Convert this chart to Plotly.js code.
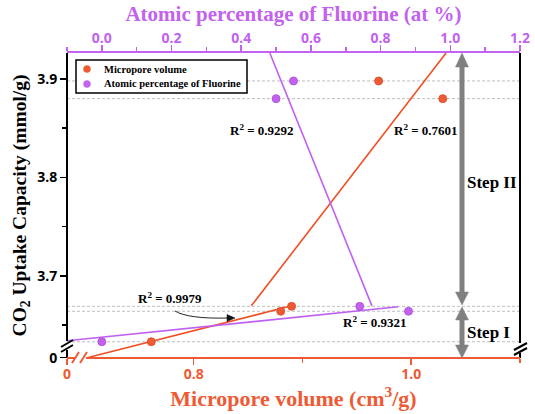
<!DOCTYPE html>
<html>
<head>
<meta charset="utf-8">
<script src="https://cdn.plot.ly/plotly-3.0.1.min.js"></script>
<style>html,body{margin:0;padding:0;background:#fff;}#chart{width:535px;height:414px;}</style>
</head>
<body>
<div id="chart"></div>
<script>
// ---- data ----
const uptake = [3.633, 3.664, 3.669, 3.898, 3.880];          // CO2 uptake (mmol/g)
const microporeVolume = [0.761, 0.880, 0.890, 0.970, 1.029]; // cm3/g (bottom axis)
const fluorineAt = [0.00, 0.88, 0.74, 0.55, 0.50];           // at % (top axis)

// linear fits (endpoints of drawn fit segments)
const fitVolI_x = [0.702, 0.890];  const fitVolI_y = [3.6168, 3.6695];
const fitVolII_x = [0.853, 1.032]; const fitVolII_y = [3.6695, 3.9264];
const fitFII_x = [0.482, 0.775];   const fitFII_y = [3.9264, 3.6695];
const fitFI_x = [-0.10, 0.850];    const fitFI_y = [3.634, 3.6685];

const r2Labels = ['R<sup>2</sup> = 0.9292', 'R<sup>2</sup> = 0.7601', 'R<sup>2</sup> = 0.9979', 'R<sup>2</sup> = 0.9321'];
const yTickVals = [3.6168, 3.7, 3.8, 3.9];
const yTickText = ['0', '3.7', '3.8', '3.9'];
const xTickVals = [0.6835, 0.8, 1.0];
const xTickText = ['0', '0.8', '1.0'];
const x2TickVals = [0, 0.2, 0.4, 0.6, 0.8, 1.0, 1.2];
const x2TickText = ['0.0', '0.2', '0.4', '0.6', '0.8', '1.0', '1.2'];

// ---- styling ----
const ORANGE = '#EE5A34', ORANGE_LINE = '#F04E22';
const PURPLE = '#C262EE', PURPLE_LINE = '#C060F0';
const GRAY = '#808080';
const SERIF = 'Liberation Serif, Times New Roman, serif';
const SANS = 'Open Sans, Liberation Sans, sans-serif';
const b = s => '<b>' + s + '</b>';

// pixel -> paper helpers (plot area: x 67..520, y 53..358)
const L = 67, R = 520, T = 53, B = 358;
const px = x => (x - L) / (R - L);
const py = y => (B - y) / (B - T);

const traces = [
  {x: fitVolI_x, y: fitVolI_y, xaxis: 'x', yaxis: 'y', mode: 'lines', line: {color: ORANGE_LINE, width: 1.6}, hoverinfo: 'skip'},
  {x: fitVolII_x, y: fitVolII_y, xaxis: 'x', yaxis: 'y', mode: 'lines', line: {color: ORANGE_LINE, width: 1.6}, hoverinfo: 'skip'},
  {x: fitFII_x, y: fitFII_y, xaxis: 'x2', yaxis: 'y', mode: 'lines', line: {color: PURPLE_LINE, width: 1.6}, hoverinfo: 'skip'},
  {x: fitFI_x, y: fitFI_y, xaxis: 'x2', yaxis: 'y', mode: 'lines', line: {color: PURPLE_LINE, width: 1.6}, hoverinfo: 'skip'},
  {x: microporeVolume, y: uptake, xaxis: 'x', yaxis: 'y', mode: 'markers', name: 'Micropore volume',
   marker: {color: ORANGE, size: 8, line: {color: '#d84a26', width: 0.8}}},
  {x: fluorineAt, y: uptake, xaxis: 'x2', yaxis: 'y', mode: 'markers', name: 'Atomic percentage of Fluorine',
   marker: {color: PURPLE, size: 8, line: {color: '#a94fd6', width: 0.8}}}
];

const shapes = [];
// dashed guide lines at each measured uptake
uptake.forEach(v => shapes.push({type: 'line', xref: 'paper', yref: 'y', x0: 0, x1: 1, y0: v, y1: v,
  line: {color: '#bdbdbd', width: 1, dash: '3px,2px'}, layer: 'below'}));
function seg(x0, y0, x1, y1, color, width) {
  shapes.push({type: 'line', xref: 'paper', yref: 'paper', x0: px(x0), y0: py(y0), x1: px(x1), y1: py(y1),
    line: {color: color, width: width}});
}
function tri(pts, color) {
  const d = 'M ' + pts.map(p => px(p[0]) + ',' + py(p[1])).join(' L ') + ' Z';
  shapes.push({type: 'path', xref: 'paper', yref: 'paper', path: d, fillcolor: color, line: {color: color, width: 0.5}});
}
// left axis (with break)
seg(L, T, L, 341, '#000', 2);
seg(L, 350, L, B, '#000', 2);
seg(61, 347, 73, 340, '#000', 2);
seg(61, 352, 73, 345, '#000', 2);
// right axis (with break)
seg(R, T, R, 343, '#000', 2);
seg(R, 353, R, B, '#000', 2);
seg(514, 350, 527, 343, '#000', 2);
seg(514, 355, 527, 348, '#000', 2);
// bottom axis (with break)
seg(L, B, 76, B, ORANGE, 2);
seg(86, B, R, B, ORANGE, 2);
seg(72, 363, 79, 352, ORANGE, 2);
seg(80, 363, 87, 352, ORANGE, 2);
// Step arrows
seg(462, 64, 462, 295, GRAY, 5);
tri([[462, 53], [455.5, 67], [468.5, 67]], GRAY);
tri([[462, 305], [455.5, 292], [468.5, 292]], GRAY);
seg(462, 318, 462, 347, GRAY, 5);
tri([[462, 307], [455.5, 320], [468.5, 320]], GRAY);
tri([[462, 358], [455.5, 345], [468.5, 345]], GRAY);
// curved pointer for R2 = 0.9979
shapes.push({type: 'path', xref: 'paper', yref: 'paper',
  path: 'M ' + px(175) + ',' + py(311) + ' Q ' + px(188) + ',' + py(319) + ' ' + px(228) + ',' + py(318),
  line: {color: '#222', width: 1}});
tri([[235, 318], [227, 314.5], [227, 321.5]], '#111');
// legend box and markers
shapes.push({type: 'rect', xref: 'paper', yref: 'paper', x0: px(76), x1: px(247), y0: py(60), y1: py(93),
  line: {color: '#000', width: 1.5}, fillcolor: '#fff'});
[[69, ORANGE], [84, PURPLE]].forEach(([yy, c]) => shapes.push({type: 'circle', xref: 'paper', yref: 'paper',
  xsizemode: 'pixel', ysizemode: 'pixel', xanchor: px(87), yanchor: py(yy), x0: -3.5, x1: 3.5, y0: -3.5, y1: 3.5,
  fillcolor: c, line: {color: c, width: 0.5}}));

function note(x, y, text, size, anchor) {
  return {xref: 'paper', yref: 'paper', x: px(x), y: py(y), xanchor: anchor || 'center', yanchor: 'middle',
    text: b(text), showarrow: false, font: {family: SERIF, size: size, color: '#000'}};
}
const annotations = [
  note(262, 130, r2Labels[0], 13),
  note(426, 130, r2Labels[1], 13),
  note(170, 298, r2Labels[2], 13),
  note(375, 322, r2Labels[3], 13),
  note(492, 182, 'Step II', 17),
  note(488, 332, 'Step I', 17),
  note(102, 69, 'Micropore volume', 10.5, 'left'),
  note(102, 84, 'Atomic percentage of Fluorine', 10.5, 'left')
];

const layout = {
  width: 535, height: 414,
  margin: {l: 67, r: 15, t: 53, b: 56},
  paper_bgcolor: '#fff', plot_bgcolor: '#fff',
  showlegend: false,
  xaxis: {
    range: [0.6835, 1.1], tickmode: 'array', tickvals: xTickVals, ticktext: xTickText.map(b),
    showline: false, showgrid: false, zeroline: false,
    ticks: 'outside', ticklen: 6, tickwidth: 1.5, tickcolor: ORANGE, ticklabelstandoff: -3,
    minor: {tickmode: 'array', tickvals: [0.9, 1.1], ticks: 'outside', ticklen: 4, tickwidth: 1.5, tickcolor: ORANGE},
    tickfont: {family: SANS, size: 14, color: ORANGE},
    title: {text: b('Micropore volume (cm<sup>3</sup>/g)'), standoff: 0,
      font: {family: SERIF, size: 22, color: ORANGE}}
  },
  xaxis2: {
    overlaying: 'x', side: 'top', anchor: 'y',
    range: [-0.1, 1.2], tickmode: 'array', tickvals: x2TickVals, ticktext: x2TickText.map(b),
    showline: true, linecolor: PURPLE, linewidth: 2, showgrid: false, zeroline: false,
    ticks: 'outside', ticklen: 6, tickwidth: 1.5, tickcolor: PURPLE, ticklabelstandoff: -4,
    minor: {tickmode: 'array', tickvals: [-0.1, 0.1, 0.3, 0.5, 0.7, 0.9, 1.1], ticks: 'outside', ticklen: 4, tickwidth: 1.5, tickcolor: PURPLE},
    tickfont: {family: SANS, size: 14, color: PURPLE},
    title: {text: b('Atomic percentage of Fluorine (at %)'), standoff: 1,
      font: {family: SERIF, size: 21, color: PURPLE}}
  },
  yaxis: {
    range: [3.6165, 3.9264], tickmode: 'array', tickvals: yTickVals, ticktext: yTickText.map(b),
    showline: false, showgrid: false, zeroline: false,
    ticks: 'outside', ticklen: 6, tickwidth: 1.5, tickcolor: '#000',
    minor: {tickmode: 'array', tickvals: [3.65, 3.75, 3.85], ticks: 'outside', ticklen: 4, tickwidth: 1.5, tickcolor: '#000'},
    tickfont: {family: SANS, size: 14, color: '#000'},
    title: {text: b('CO<sub>2</sub> Uptake Capacity (mmol/g)'), standoff: 5,
      font: {family: SERIF, size: 19.5, color: '#000'}}
  },
  shapes: shapes,
  annotations: annotations
};

Plotly.newPlot('chart', traces, layout, {displayModeBar: false, staticPlot: true});
</script>
</body>
</html>
